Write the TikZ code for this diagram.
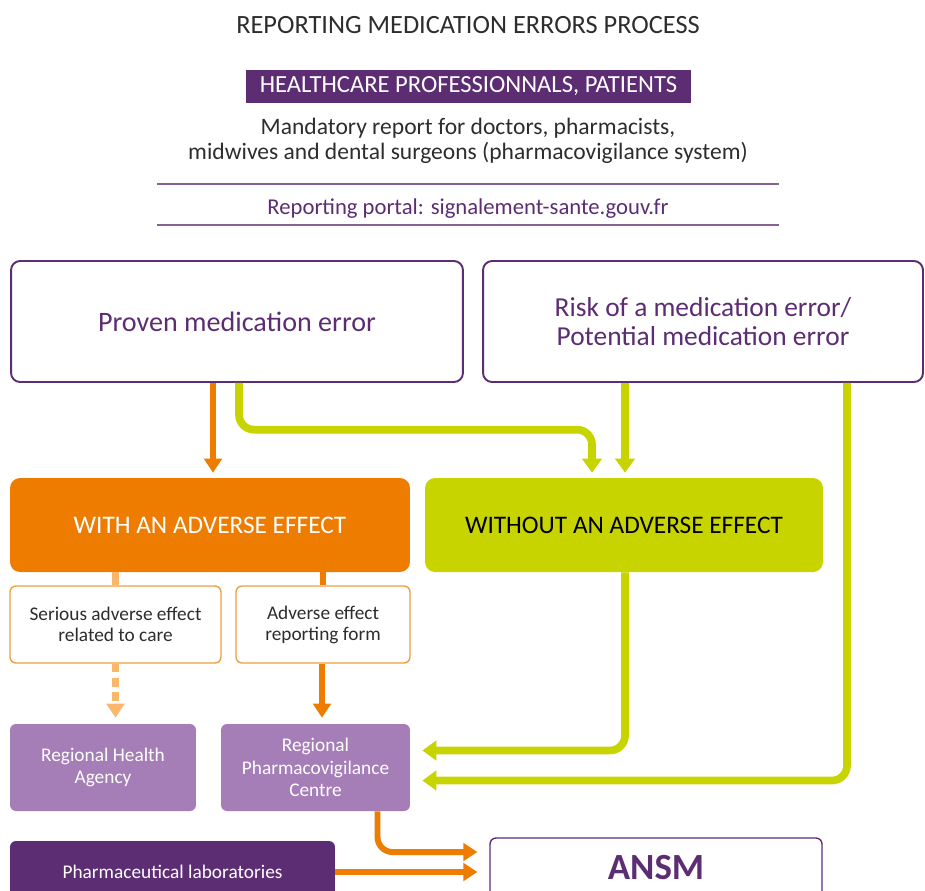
\documentclass[tikz,border=0pt]{standalone}
\usepackage{fontspec}
\setmainfont{Carlito}
\usepackage{xcolor}
\usetikzlibrary{calc, arrows.meta}
\definecolor{plum}{RGB}{92,45,115}
\definecolor{lilac}{RGB}{166,126,183}
\definecolor{tangerine}{RGB}{237,124,0}
\definecolor{apricot}{RGB}{250,182,106}
\definecolor{chartreuse}{RGB}{200,212,0}
\definecolor{ink}{RGB}{45,45,45}

\begin{document}
\begin{tikzpicture}[x=0.02cm, y=-0.02cm,
	casebox/.style={draw=plum, line width=1.1pt, rounded corners=0.18cm, fill=white, text=plum, align=center, font=\fontsize{15.6}{16.5}\selectfont},
	effectbox/.style={rounded corners=0.2cm, align=center, minimum width=8cm, minimum height=1.88cm, font=\fontsize{14.4}{17}\selectfont},
	subbox/.style={draw=tangerine!75, line width=0.8pt, rounded corners=0.12cm, fill=white, text=ink, align=center, minimum height=1.54cm, font=\fontsize{11}{12}\selectfont},
	centrebox/.style={fill=lilac, rounded corners=0.12cm, text=white, align=center, minimum height=1.74cm, font=\fontsize{11}{13}\selectfont},
	orangeflow/.style={draw=tangerine, line width=3.4pt, -{Triangle[width=10pt,length=8pt]}},
	paleflow/.style={draw=apricot, line width=3.8pt, dash pattern=on 5pt off 3pt, -{Triangle[width=10pt,length=8pt]}},
	greenflow/.style={draw=chartreuse, line width=4.4pt, rounded corners=0.3cm, -{Triangle[width=11pt,length=8pt]}}]
	\useasboundingbox (0,0) rectangle (925,890);
	\clip (0,0) rectangle (925,890);

	% header
	\node[name=title, text=ink, font=\fontsize{15}{18}\selectfont] at (468,25) {REPORTING MEDICATION ERRORS PROCESS};
	\node[name=who, fill=plum, text=white, minimum width=8.9cm, minimum height=0.66cm, font=\fontsize{14}{16}\selectfont] at (468.5,86.5) {HEALTHCARE PROFESSIONNALS, PATIENTS};
	\node[name=duty, text=ink, align=center, font=\fontsize{13.4}{14.5}\selectfont] at (468,141) {Mandatory report for doctors, pharmacists,\\ midwives and dental surgeons (pharmacovigilance system)};
	\draw[plum!75, line width=0.8pt] (157,184) -- (779,184);
	\node[name=portal, text=plum, font=\fontsize{12.9}{15}\selectfont] at (468,209) {Reporting portal: signalement-sante.gouv.fr};
	\draw[plum!75, line width=0.8pt] (157,225) -- (779,225);

	% cases
	\node[casebox, name=proven, minimum width=9.04cm, minimum height=2.42cm, font=\fontsize{16}{18}\selectfont] at (237,321.5) {Proven medication error};
	\node[casebox, name=risk, minimum width=8.8cm, minimum height=2.42cm] at (703,321.5) {Risk of a medication error/\\ Potential medication error};
	\node[effectbox, name=withae, fill=tangerine, text=white] at (210,525) {WITH AN ADVERSE EFFECT};
	\node[effectbox, name=withoutae, fill=chartreuse, text=black, minimum width=7.96cm] at (624,525) {WITHOUT AN ADVERSE EFFECT};
	\node[subbox, name=serious, minimum width=4.22cm] at (115.5,624.5) {Serious adverse effect\\ related to care};
	\node[subbox, name=form, minimum width=3.48cm] at (323,624.5) {Adverse effect\\ reporting form};
	\node[centrebox, name=rha, minimum width=3.72cm] at (103,767.5) {Regional Health\\ Agency};
	\node[centrebox, name=rpc, minimum width=3.78cm] at (315.5,767.5) {Regional\\ Pharmacovigilance\\ Centre};
	\node[name=labs, fill=plum, text=white, rounded corners=0.12cm, minimum width=6.5cm, minimum height=1.24cm, font=\fontsize{11}{13}\selectfont] at (172.5,872) {Pharmaceutical laboratories};
	\node[name=ansm, draw=plum, line width=0.8pt, rounded corners=0.12cm, text=plum, minimum width=6.64cm, minimum height=1.2cm, font=\fontsize{21}{24}\selectfont\bfseries] at (656,868) {ANSM};

	% flows
	\draw[orangeflow] ($(proven.south)+(-24,0)$) -- ($(withae.north)+(3,-5)$);
	\draw[greenflow] ($(proven.south)+(2,0)$) |- ($(withoutae.north)+(-32,-48)$) -- ($(withoutae.north)+(-32,-5)$);
	\draw[greenflow] ($(risk.south)+(-78,0)$) -- ($(withoutae.north)+(1,-5)$);
	\draw[draw=apricot, line width=3.8pt] (withae.south -| serious) -- (serious.north);
	\draw[paleflow] (serious.south) -- ($(serious.south |- rha.north)+(0,-6)$);
	\draw[draw=tangerine, line width=3.4pt] (withae.south -| form) -- (form.north);
	\draw[orangeflow] ($(form.south)+(-1,0)$) -- ($(form.south |- rpc.north)+(-1,-6)$);
	\draw[greenflow] ($(withoutae.south)+(1,0)$) |- ($(rpc.east)+(12,-17)$);
	\draw[greenflow] ($(risk.south)+(144,0)$) |- ($(rpc.east)+(12,13)$);
	\draw[orangeflow, rounded corners=0.3cm] ($(rpc.south)+(62,0)$) |- ($(ansm.west)+(-12,-16)$);
	\draw[orangeflow] (labs.east) -- ($(labs.east -| ansm.west)+(-12,0)$);
\end{tikzpicture}
\end{document}
